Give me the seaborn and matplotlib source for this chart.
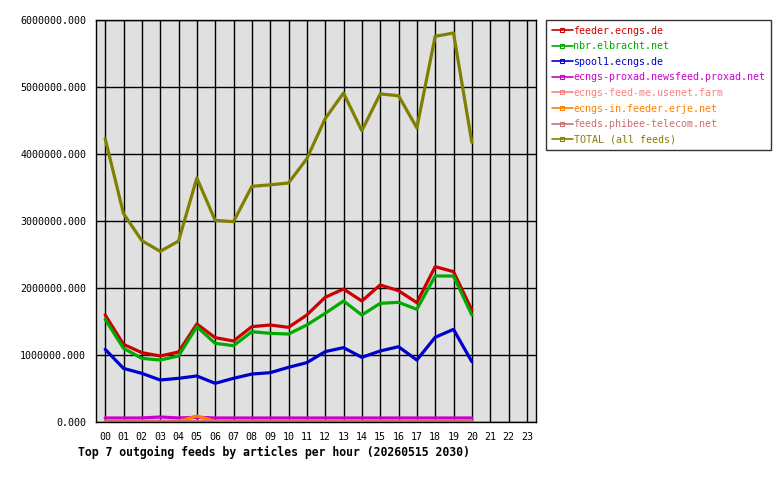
import numpy as np
import pandas as pd
import seaborn as sns
import matplotlib
matplotlib.use("Agg")
import matplotlib.pyplot as plt
from matplotlib.lines import Line2D
from matplotlib.ticker import FuncFormatter

# ===================== DATA =====================
hours = list(range(21))
hour_labels = ["%02d" % h for h in range(24)]

feeds = [
    "feeder.ecngs.de",
    "nbr.elbracht.net",
    "spool1.ecngs.de",
    "ecngs-proxad.newsfeed.proxad.net",
    "ecngs-feed-me.usenet.farm",
    "ecngs-in.feeder.erje.net",
    "feeds.phibee-telecom.net",
    "TOTAL (all feeds)",
]
colors = ["#cc0000", "#00aa00", "#0000cc", "#cc00cc",
          "#ff8080", "#ff8000", "#cc7070", "#808000"]

feeder = [1597000, 1159000, 1035000, 985000, 1045000, 1463000, 1259000, 1209000,
          1423000, 1448000, 1413000, 1597000, 1861000, 1985000, 1806000, 2045000,
          1960000, 1781000, 2318000, 2244000, 1672000]
nbr = [1532000, 1100000, 950000, 925000, 985000, 1423000, 1174000, 1139000,
       1348000, 1323000, 1313000, 1448000, 1622000, 1806000, 1597000, 1771000,
       1786000, 1682000, 2179000, 2179000, 1597000]
spool1 = [1085000, 800000, 726000, 627000, 652000, 687000, 577000, 652000,
          716000, 736000, 816000, 886000, 1050000, 1110000, 965000, 1060000,
          1124000, 925000, 1264000, 1383000, 900000]
proxad = [60000, 60000, 60000, 75000, 60000, 70000, 60000, 60000, 60000, 60000,
          60000, 60000, 60000, 60000, 60000, 60000, 60000, 60000, 60000, 60000, 60000]
feedme = [20000] * 21
erje = [10000, 10000, 10000, 10000, 10000, 90000, 10000, 10000, 10000, 10000,
        10000, 10000, 10000, 10000, 10000, 10000, 10000, 10000, 10000, 10000, 10000]
phibee = [20000] * 21
total = [4229000, 3110000, 2707000, 2547000, 2700000, 3642000, 3010000, 2990000,
         3517000, 3540000, 3567000, 3930000, 4527000, 4910000, 4348000, 4896000,
         4870000, 4390000, 5756000, 5806000, 4174000]

series = [feeder, nbr, spool1, proxad, feedme, erje, phibee, total]

rows = []
for name, vals in zip(feeds, series):
    for h, v in zip(hours, vals):
        rows.append({"hour": h, "feed": name, "articles": v})
df = pd.DataFrame(rows)

# ===================== PLOT =====================
sns.set_style("white")
plt.rcParams["font.family"] = ["DejaVu Sans Mono"]
plt.rcParams["text.color"] = "black"
plt.rcParams["xtick.color"] = "black"
plt.rcParams["ytick.color"] = "black"

fig = plt.figure(figsize=(7.8, 4.8), dpi=100)
ax = fig.add_axes([96 / 780, 1 - 422 / 480, 440 / 780, 402 / 480])
ax.set_facecolor("#e0e0e0")

sns.lineplot(data=df, x="hour", y="articles", hue="feed", hue_order=feeds,
             palette=dict(zip(feeds, colors)), linewidth=2.3, legend=False, ax=ax)

ax.set_xlim(-0.5, 23.5)
ax.set_ylim(0, 6000000)
ax.set_xticks(range(24))
ax.set_xticklabels(hour_labels)
ax.set_yticks(np.arange(0, 6000001, 1000000))
ax.yaxis.set_major_formatter(FuncFormatter(lambda v, p: "%.3f" % v))
ax.grid(True, color="black", linewidth=1)
ax.set_axisbelow(True)
ax.tick_params(axis="both", direction="out", length=4, width=1, color="black",
               labelsize=7.2, pad=3, labelcolor="black")
for s in ax.spines.values():
    s.set_color("black")
    s.set_linewidth(1)
ax.set_xlabel("")
ax.set_ylabel("")

handles = [Line2D([0], [0], color=c, linewidth=1.2, marker="s", markersize=3,
                  markerfacecolor="none", markeredgecolor=c, markeredgewidth=0.8)
           for c in colors]
leg = fig.legend(handles, feeds, loc="upper left",
                 bbox_to_anchor=(546 / 780, 1 - 20 / 480), borderaxespad=0,
                 frameon=True, fancybox=False, edgecolor="black",
                 fontsize=7.2, handlelength=2.1, handletextpad=0.1,
                 labelspacing=0.56, borderpad=0.55, markerscale=1)
leg.get_frame().set_linewidth(1)
for t, c in zip(leg.get_texts(), colors):
    t.set_color(c)

fig.text(78 / 780, 1 - 452 / 480,
         "Top 7 outgoing feeds by articles per hour (20260515 2030)",
         fontsize=8.3, fontweight="bold", va="center", ha="left")

fig.savefig("out.png", dpi=100)
